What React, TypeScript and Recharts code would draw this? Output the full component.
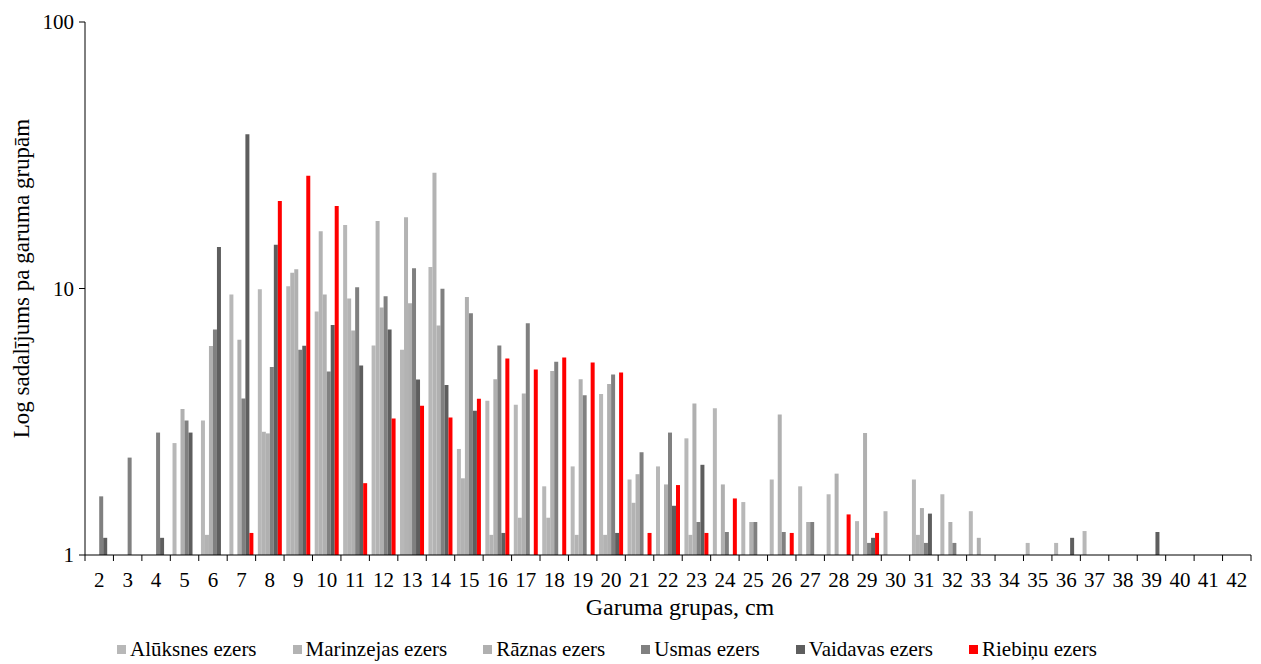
import React from 'react';
import { BarChart, Bar, XAxis, YAxis, Legend, Label } from 'recharts';

// length groups, cm
const lengthGroups = [
  '2', '3', '4', '5', '6', '7', '8', '9', '10', '11', '12', '13', '14', '15', '16', '17', '18', '19', '20', '21',
  '22', '23', '24', '25', '26', '27', '28', '29', '30', '31', '32', '33', '34', '35', '36', '37', '38', '39', '40', '41', '42',
];

const aluksnes = [
  null, null, null, 2.63, 3.2, 9.5, 9.94, 10.2, 8.2, 17.3, 6.11, 5.89, 12.05, 2.5, 3.79, 3.66, 1.81, 2.15, 4.02, 1.92,
  2.15, 2.74, 3.55, 1.58, 1.92, 1.81, 1.69, 1.34, 1.46, 1.92, 1.69, 1.46, null, 1.11, 1.11, 1.23, null, null, null, null, null,
];
const marinzejas = [
  null, null, null, null, 1.19, null, 2.9, 11.45, 16.4, 9.17, 17.9, 18.5, 27.2, 1.94, 1.19, 1.38, 1.38, 1.19, 1.19, 1.57,
  null, 1.19, null, null, null, null, null, null, null, 1.19, null, null, null, null, null, null, null, null, null, null, null,
];
const raznas = [
  null, null, null, 3.53, 6.08, 6.42, 2.86, 11.8, 9.5, 6.96, 8.49, 8.8, 7.27, 9.3, 4.57, 4.04, 4.9, 4.57, 4.38, 2.01,
  1.84, 3.7, 1.84, 1.33, 3.37, 1.33, 2.02, 2.87, null, 1.5, 1.33, 1.16, null, null, null, null, null, null, null, null, null,
];
const usmas = [
  1.66, 2.32, 2.88, 3.2, 7.02, 3.87, 5.08, 5.89, 4.88, 10.1, 9.36, 11.9, 9.97, 8.08, 6.11, 7.41, 5.31, 3.98, 4.76, 2.43,
  2.88, 1.33, 1.22, 1.33, 1.22, 1.33, null, 1.11, null, 1.11, 1.11, null, null, null, null, null, null, null, null, null, null,
];
const vaidavas = [
  1.16, null, 1.16, 2.88, 14.3, 37.9, 14.6, 6.1, 7.3, 5.14, 7.02, 4.56, 4.34, 3.48, 1.21, null, null, null, 1.21, null,
  1.53, 2.18, null, null, null, null, null, 1.16, null, 1.43, null, null, null, null, 1.16, null, null, 1.22, null, null, null,
];
const riebinu = [
  null, null, null, null, null, 1.21, 21.3, 26.5, 20.4, 1.86, 3.25, 3.63, 3.28, 3.86, 5.46, 4.97, 5.51, 5.28, 4.84, 1.21,
  1.83, 1.21, 1.63, null, 1.21, null, 1.42, 1.21, null, null, null, null, null, null, null, null, null, null, null, null, null,
];

const yTicks = [1, 10, 100];

const SERIES = [
  { key: 'aluksnes', name: 'Alūksnes ezers', color: '#B8B8B8', values: aluksnes },
  { key: 'marinzejas', name: 'Marinzejas ezers', color: '#B3B3B3', values: marinzejas },
  { key: 'raznas', name: 'Rāznas ezers', color: '#B0B0B0', values: raznas },
  { key: 'usmas', name: 'Usmas ezers', color: '#808080', values: usmas },
  { key: 'vaidavas', name: 'Vaidavas ezers', color: '#5E5E5E', values: vaidavas },
  { key: 'riebinu', name: 'Riebiņu ezers', color: '#FF0000', values: riebinu },
];

const data = lengthGroups.map((group, i) => {
  const row: Record<string, any> = { group };
  SERIES.forEach((s) => {
    row[s.key] = s.values[i];
  });
  return row;
});

const FONT = '"Liberation Serif", "Times New Roman", serif';
const W = 1253;
const H = 656;
const MARGIN = { top: 14, right: 10, left: 0, bottom: 3 };
const Y_AXIS_W = 77;
const PLOT_W = W - MARGIN.left - MARGIN.right - Y_AXIS_W;
const BAND = PLOT_W / lengthGroups.length;

const XTick = (props: any) => {
  const { x, y, payload, index } = props;
  const isLast = index === lengthGroups.length - 1;
  return (
    <g>
      <line x1={x - BAND / 2} x2={x - BAND / 2} y1={y} y2={y + 6} stroke="#000" strokeWidth={1} />
      {isLast && <line x1={x + BAND / 2} x2={x + BAND / 2} y1={y} y2={y + 6} stroke="#000" strokeWidth={1} />}
      <text x={x} y={y + 25} textAnchor="middle" dominantBaseline="central" fontFamily={FONT} fontSize={21} fill="#000">
        {payload.value}
      </text>
    </g>
  );
};

const XTitle = (props: any) => {
  const { x, y, width } = props.viewBox;
  return (
    <text x={x + width / 2 + 12} y={y + 52} textAnchor="middle" dominantBaseline="central" fontFamily={FONT} fontSize={24} fill="#000">
      Garuma grupas, cm
    </text>
  );
};

const YTitle = (props: any) => {
  const { x, y, height } = props.viewBox;
  const cx = x + 13;
  const cy = y + height / 2 - 10;
  return (
    <text
      x={cx}
      y={cy}
      transform={`rotate(-90 ${cx} ${cy})`}
      textAnchor="middle"
      dominantBaseline="central"
      fontFamily={FONT}
      fontSize={23}
      fill="#000"
    >
      Log sadalījums pa garuma grupām
    </text>
  );
};

const renderLegend = () => (
  <div
    style={{
      display: 'flex',
      alignItems: 'center',
      height: 24,
      paddingLeft: 109,
      gap: 36,
      fontFamily: FONT,
      fontSize: 21,
      color: '#000',
      whiteSpace: 'nowrap',
    }}
  >
    {SERIES.map((s) => (
      <div key={s.key} style={{ display: 'flex', alignItems: 'center' }}>
        <span style={{ display: 'inline-block', width: 9, height: 9, background: s.color, marginRight: 4 }} />
        <span>{s.name}</span>
      </div>
    ))}
  </div>
);

export default function App() {
  return (
    <BarChart width={W} height={H} data={data} margin={MARGIN} barCategoryGap={2.2} barGap={0}>
      <XAxis
        dataKey="group"
        interval={0}
        height={82}
        tickLine={false}
        tickSize={0}
        tickMargin={0}
        axisLine={{ stroke: '#000' }}
        tick={<XTick />}
      >
        <Label content={<XTitle />} />
      </XAxis>
      <YAxis
        scale="log"
        domain={[1, 100]}
        ticks={yTicks}
        allowDataOverflow
        width={Y_AXIS_W}
        tickSize={6}
        tickMargin={5}
        axisLine={{ stroke: '#000' }}
        tickLine={{ stroke: '#000' }}
        tick={{ fontFamily: FONT, fontSize: 21, fill: '#000' }}
      >
        <Label content={<YTitle />} />
      </YAxis>
      <Legend verticalAlign="bottom" content={renderLegend} />
      {SERIES.map((s) => (
        <Bar key={s.key} dataKey={s.key} name={s.name} fill={s.color} isAnimationActive={false} />
      ))}
    </BarChart>
  );
}
